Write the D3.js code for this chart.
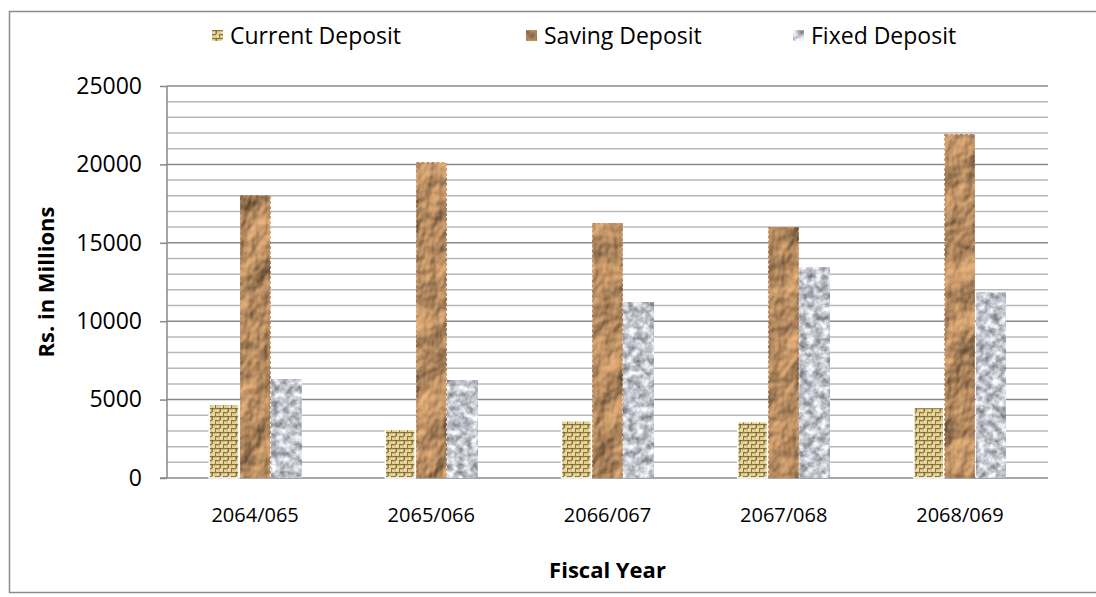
<!DOCTYPE html>
<html>
<head>
<meta charset="utf-8">
<script src="https://cdn.jsdelivr.net/npm/d3@7/dist/d3.min.js"></script>
<style>
  html, body { margin: 0; padding: 0; background: #fff; }
  svg { display: block; font-family: "Open Sans", "Noto Sans", sans-serif; }
</style>
</head>
<body>
<svg id="chart" width="1096" height="597"></svg>
<script>
const categories = ["2064/065", "2065/066", "2066/067", "2067/068", "2068/069"];
const seriesNames = ["Current Deposit", "Saving Deposit", "Fixed Deposit"];
const currentDeposit = [4700, 3100, 3650, 3600, 4500];
const savingDeposit = [18000, 20100, 16250, 16000, 21900];
const fixedDeposit = [6300, 6250, 11200, 13450, 11800];
const yTicks = [0, 5000, 10000, 15000, 20000, 25000];
const yMinorTicks = d3.range(0, 25001, 1000);
const yTitle = "Rs. in Millions";
const xTitle = "Fiscal Year";

const seriesValues = [currentDeposit, savingDeposit, fixedDeposit];
const fills = ["url(#pCurrent)", "#c39a6a", "#c8c8cc"];

const svg = d3.select("#chart");
const plot = { left: 167, right: 1048, top: 86, bottom: 478 };

// defs: textures
const defs = svg.append("defs");
// Current: basket weave pattern
const pc = defs.append("pattern").attr("id", "pCurrent").attr("patternUnits", "userSpaceOnUse")
  .attr("width", 8).attr("height", 8);
pc.append("rect").attr("width", 8).attr("height", 8).attr("fill", "#e2cf92");
pc.append("rect").attr("x", 0).attr("y", 0).attr("width", 8).attr("height", 1.2).attr("fill", "#8e7440");
pc.append("rect").attr("x", 0).attr("y", 4).attr("width", 4).attr("height", 1.2).attr("fill", "#8e7440");
pc.append("rect").attr("x", 3.6).attr("y", 0).attr("width", 1.2).attr("height", 4).attr("fill", "#75602e");
pc.append("rect").attr("x", 7.2).attr("y", 4).attr("width", 1.2).attr("height", 4).attr("fill", "#75602e");
pc.append("rect").attr("x", 1).attr("y", 1.8).attr("width", 2).attr("height", 1.4).attr("fill", "#f5e8b8");
pc.append("rect").attr("x", 5).attr("y", 5.8).attr("width", 2).attr("height", 1.4).attr("fill", "#f5e8b8");

// Saving: crumpled paper filter
const fs = defs.append("filter").attr("id", "fSaving").attr("x", 0).attr("y", 0)
  .attr("width", 1).attr("height", 1).attr("color-interpolation-filters", "sRGB");
fs.append("feTurbulence").attr("type", "fractalNoise").attr("baseFrequency", "0.03 0.022")
  .attr("numOctaves", 4).attr("seed", 7).attr("result", "noise");
const light = fs.append("feDiffuseLighting").attr("in", "noise").attr("lighting-color", "#e6b07a")
  .attr("surfaceScale", 5).attr("diffuseConstant", 1.1).attr("result", "lit");
light.append("feDistantLight").attr("azimuth", 235).attr("elevation", 46);
fs.append("feComposite").attr("in", "lit").attr("in2", "SourceGraphic").attr("operator", "in");

// Fixed: granite filter
const ff = defs.append("filter").attr("id", "fFixed").attr("x", 0).attr("y", 0)
  .attr("width", 1).attr("height", 1).attr("color-interpolation-filters", "sRGB");
ff.append("feTurbulence").attr("type", "fractalNoise").attr("baseFrequency", "0.14")
  .attr("numOctaves", 3).attr("seed", 11).attr("result", "noise");
ff.append("feColorMatrix").attr("in", "noise").attr("type", "matrix")
  .attr("values", "0.8 0 0 0 0.36  0.8 0 0 0 0.37  0.8 0 0 0 0.40  0 0 0 0 1").attr("result", "g");
ff.append("feComposite").attr("in", "g").attr("in2", "SourceGraphic").attr("operator", "in");

const filters = [null, "url(#fSaving)", "url(#fFixed)"];

// outer border
svg.append("rect").attr("x", 9.5).attr("y", 11.5).attr("width", 1100).attr("height", 581)
  .attr("fill", "none").attr("stroke", "#8c8c8c").attr("stroke-width", 1.5);

// scales
const y = d3.scaleLinear().domain([0, 25000]).range([plot.bottom, plot.top]);
const x0 = d3.scaleBand().domain(categories).range([plot.left, plot.right])
  .paddingInner(0.478).paddingOuter(0.239);
const x1 = d3.scaleBand().domain(seriesNames).range([0, x0.bandwidth()]).paddingInner(0.04);

// gridlines
const grid = svg.append("g");
grid.selectAll("line.minor").data(yMinorTicks.filter(d => d % 5000 !== 0)).join("line")
  .attr("class", "minor")
  .attr("x1", plot.left).attr("x2", plot.right)
  .attr("y1", d => y(d)).attr("y2", d => y(d))
  .attr("stroke", "#b8b8b8").attr("stroke-width", 1.5);
grid.selectAll("line.major").data(yTicks.filter(d => d > 0)).join("line")
  .attr("class", "major")
  .attr("x1", plot.left).attr("x2", plot.right)
  .attr("y1", d => y(d)).attr("y2", d => y(d))
  .attr("stroke", "#888888").attr("stroke-width", 1.5);

// y axis
const yAxis = d3.axisLeft(y).tickValues(yTicks).tickSize(7).tickPadding(18).tickFormat(d3.format("d"));
const gy = svg.append("g").attr("transform", `translate(${plot.left},0)`).call(yAxis);
gy.select(".domain").attr("stroke", "#888").attr("stroke-width", 1.5).attr("d", `M0,${plot.top}V${plot.bottom}`);
gy.selectAll(".tick line").attr("stroke", "#888").attr("stroke-width", 1.5);
gy.selectAll(".tick text").attr("font-size", 23).attr("fill", "#000")
  .attr("font-family", "'Open Sans', sans-serif");

// x axis
const xAxis = d3.axisBottom(x0).tickSize(0).tickPadding(30);
const gx = svg.append("g").attr("transform", `translate(0,${plot.bottom})`).call(xAxis);
gx.select(".domain").attr("stroke", "#888").attr("stroke-width", 1.5)
  .attr("d", `M${plot.left - 7},0H${plot.right}`);
gx.selectAll(".tick text").attr("font-size", 20).attr("fill", "#000")
  .attr("font-family", "'Open Sans', sans-serif");

// bars
const barData = [];
categories.forEach((c, i) => {
  seriesNames.forEach((s, j) => barData.push({ cat: c, series: s, idx: j, value: seriesValues[j][i] }));
});
svg.append("g").selectAll("rect").data(barData).join("rect")
  .attr("x", d => x0(d.cat) + x1(d.series))
  .attr("y", d => y(d.value))
  .attr("width", x1.bandwidth())
  .attr("height", d => y(0) - y(d.value))
  .attr("fill", d => fills[d.idx])
  .attr("filter", d => filters[d.idx])
  .attr("stroke", "#ffffff").attr("stroke-width", 1.5)
  .attr("stroke-dasharray", d => d.idx === 1 ? "3,2" : null);

// legend
const legendPos = [212, 526, 793];
const lg = svg.append("g");
seriesNames.forEach((s, j) => {
  const g = lg.append("g").attr("transform", `translate(${legendPos[j]},30)`);
  g.append("rect").attr("width", 11).attr("height", 11)
    .attr("fill", fills[j]).attr("filter", filters[j]);
  g.append("text").attr("x", 18).attr("y", 5.5).attr("dy", "0.35em")
    .attr("font-size", 23).attr("fill", "#000").text(s);
});

// axis titles
svg.append("text").attr("transform", `translate(46,${(plot.top + plot.bottom) / 2}) rotate(-90)`)
  .attr("text-anchor", "middle").attr("dy", "0.35em")
  .attr("font-size", 22).attr("font-weight", "bold").attr("fill", "#000").text(yTitle);
svg.append("text").attr("x", (plot.left + plot.right) / 2).attr("y", 570)
  .attr("text-anchor", "middle").attr("dy", "0.35em")
  .attr("font-size", 22).attr("font-weight", "bold").attr("fill", "#000").text(xTitle);
</script>
</body>
</html>
